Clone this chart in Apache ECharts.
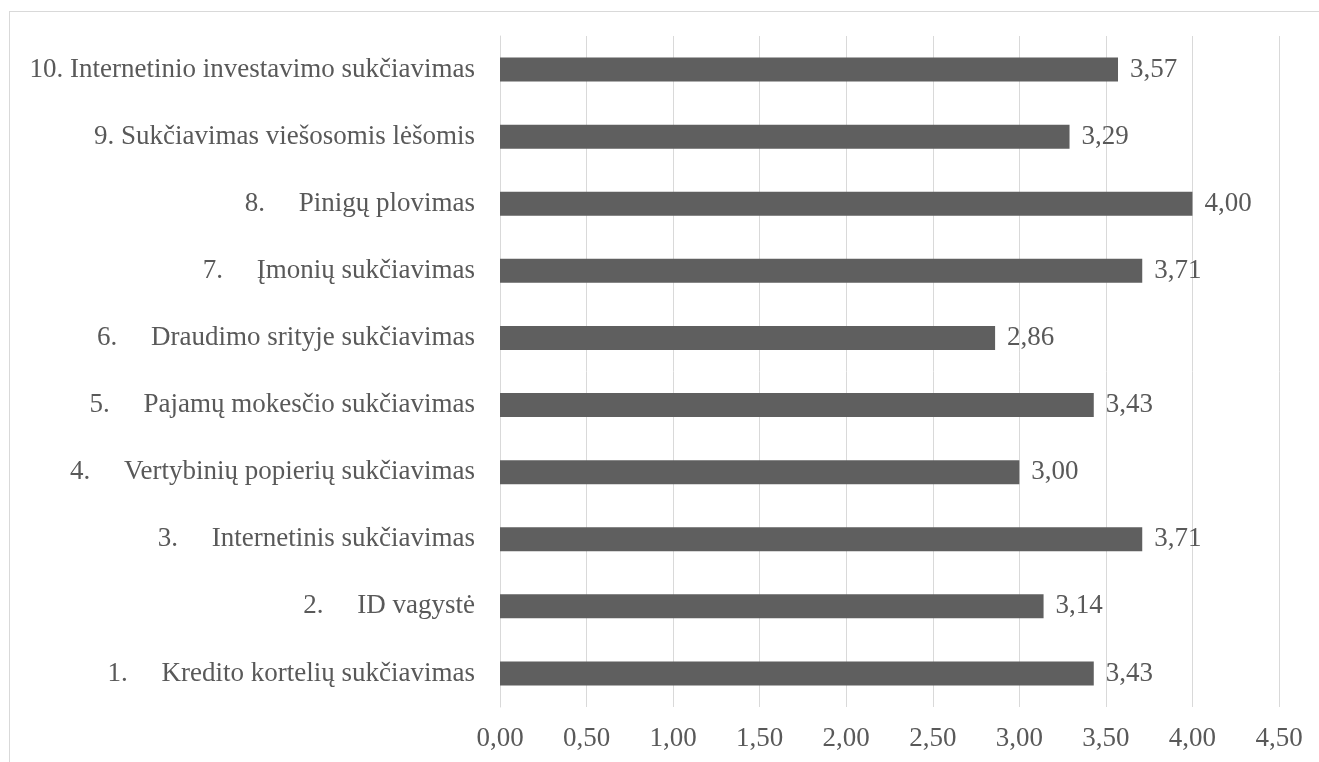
<!DOCTYPE html>
<html>
<head>
<meta charset="utf-8">
<title>Sukčiavimo rūšių vertinimas</title>
<script src="https://cdn.jsdelivr.net/npm/echarts@6/dist/echarts.min.js"></script>
<style>
  html, body { margin: 0; padding: 0; background: #ffffff; }
  #frame {
    position: absolute; left: 9px; top: 11px; width: 1400px; height: 900px;
    border-left: 1px solid #d9d9d9; border-top: 1px solid #d9d9d9;
  }
  #chart { position: absolute; left: 0; top: 0; width: 1319px; height: 762px; }
</style>
</head>
<body>
<div id="frame"></div>
<div id="chart"></div>
<script>
// Fraud types, listed bottom-to-top as they appear on the axis
const categories = [
  '1.     Kredito kortelių sukčiavimas',
  '2.     ID vagystė',
  '3.     Internetinis sukčiavimas',
  '4.     Vertybinių popierių sukčiavimas',
  '5.     Pajamų mokesčio sukčiavimas',
  '6.     Draudimo srityje sukčiavimas',
  '7.     Įmonių sukčiavimas',
  '8.     Pinigų plovimas',
  '9. Sukčiavimas viešosomis lėšomis',
  '10. Internetinio investavimo sukčiavimas'
];

// Mean scores
const scores = [3.43, 3.14, 3.71, 3.00, 3.43, 2.86, 3.71, 4.00, 3.29, 3.57];

// Value axis range
const axisMin = 0;
const axisMax = 4.5;
const axisStep = 0.5;

const fmt = v => Number(v).toFixed(2).replace('.', ',');

const FONT = '"Liberation Serif", "Times New Roman", serif';
const TEXT = '#595959';

const chart = echarts.init(document.getElementById('chart'), null, { renderer: 'canvas' });

chart.setOption({
  animation: false,
  backgroundColor: 'transparent',
  grid: { left: 500, right: 40, top: 36, bottom: 55, containLabel: false },
  xAxis: {
    type: 'value',
    min: axisMin,
    max: axisMax,
    interval: axisStep,
    axisLine: { show: false },
    axisTick: { show: false },
    splitLine: { show: true, lineStyle: { color: '#d9d9d9', width: 1 } },
    axisLabel: {
      margin: 18,
      color: TEXT,
      fontFamily: FONT,
      fontSize: 27,
      formatter: fmt
    }
  },
  yAxis: {
    type: 'category',
    data: categories,
    axisLine: { show: true, lineStyle: { color: '#d9d9d9', width: 1 } },
    axisTick: { show: false },
    splitLine: { show: false },
    axisLabel: {
      margin: 25,
      color: TEXT,
      fontFamily: FONT,
      fontSize: 27
    }
  },
  series: [{
    type: 'bar',
    data: scores,
    barWidth: 24,
    itemStyle: { color: '#5f5f5f' },
    label: {
      show: true,
      position: 'right',
      distance: 12,
      color: TEXT,
      fontFamily: FONT,
      fontSize: 27,
      formatter: p => fmt(p.value)
    }
  }]
});
</script>
</body>
</html>
